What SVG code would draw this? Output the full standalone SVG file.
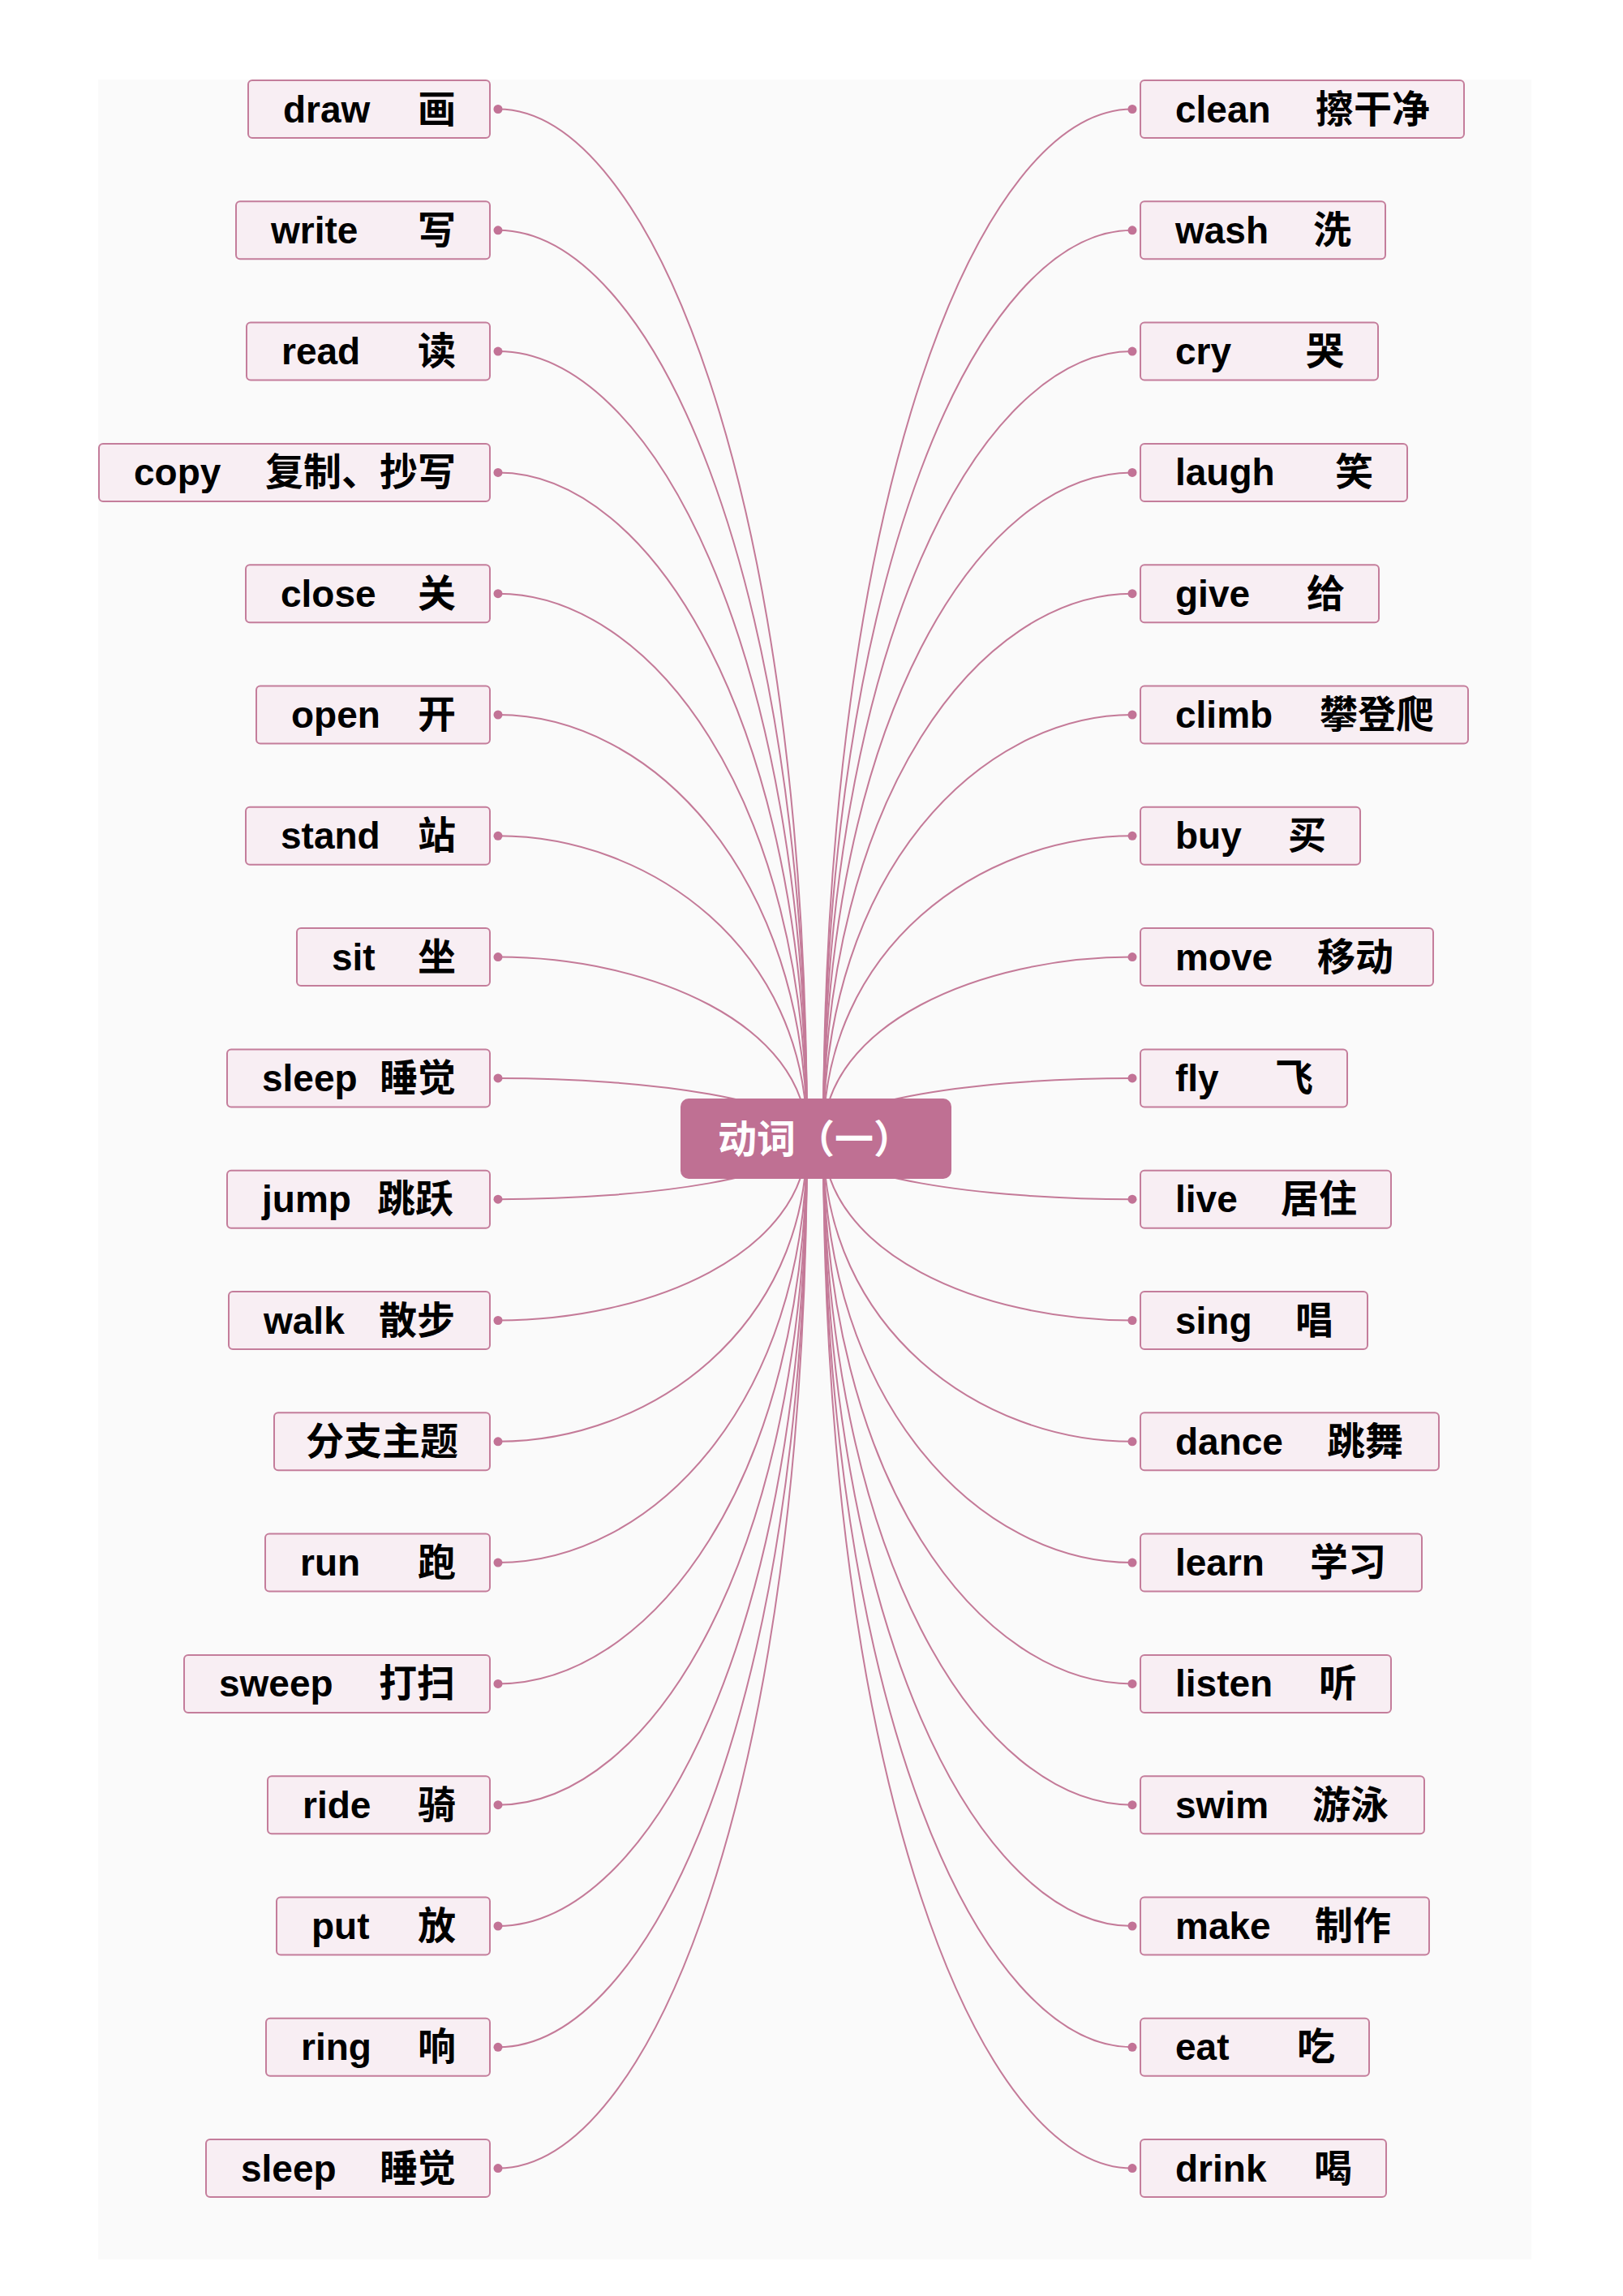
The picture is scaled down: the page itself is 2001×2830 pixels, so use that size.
<svg xmlns="http://www.w3.org/2000/svg" width="2001" height="2830" viewBox="0 0 2001 2830">
<style>
.bx{fill:#f8eef3;stroke:#c47d9b;stroke-width:2}
.en{font-family:"Liberation Sans","Noto Sans CJK SC",sans-serif;font-weight:bold;font-size:46px;fill:#000}
.zh{font-family:"Noto Sans CJK SC",sans-serif;font-weight:bold;font-size:47px}
.ln{fill:none;stroke:#c47a98;stroke-width:2}
.dt{fill:#c27396}
.ct{font-family:"Noto Sans CJK SC",sans-serif;font-weight:bold;font-size:48px;fill:#fff}
</style>
<rect x="0" y="0" width="2001" height="2830" fill="#ffffff"/>
<rect x="121" y="98" width="1767" height="2687" fill="#fafafa"/>
<g id="connectors">
<path class="ln" d="M614,134.5 C801,134.5 995,603.8 995,1403"/>
<path class="ln" d="M614,283.8 C801,283.8 995,697.9 995,1403"/>
<path class="ln" d="M614,433.1 C801,433.1 995,792 995,1403"/>
<path class="ln" d="M614,582.4 C801,582.4 995,886 995,1403"/>
<path class="ln" d="M614,731.7 C801,731.7 995,980.1 995,1403"/>
<path class="ln" d="M614,881 C801,881 995,1074.1 995,1403"/>
<path class="ln" d="M614,1030.3 C801,1030.3 995,1168.2 995,1403"/>
<path class="ln" d="M614,1179.6 C801,1179.6 995,1262.2 995,1403"/>
<path class="ln" d="M614,1328.9 C801,1328.9 995,1356.3 995,1403"/>
<path class="ln" d="M614,1478.2 C801,1478.2 995,1450.4 995,1403"/>
<path class="ln" d="M614,1627.5 C801,1627.5 995,1544.4 995,1403"/>
<path class="ln" d="M614,1776.8 C801,1776.8 995,1638.5 995,1403"/>
<path class="ln" d="M614,1926.1 C801,1926.1 995,1732.5 995,1403"/>
<path class="ln" d="M614,2075.4 C801,2075.4 995,1826.6 995,1403"/>
<path class="ln" d="M614,2224.7 C801,2224.7 995,1920.7 995,1403"/>
<path class="ln" d="M614,2374 C801,2374 995,2014.7 995,1403"/>
<path class="ln" d="M614,2523.3 C801,2523.3 995,2108.8 995,1403"/>
<path class="ln" d="M614,2672.6 C801,2672.6 995,2202.8 995,1403"/>
<path class="ln" d="M1396,134.5 C1209,134.5 1015,603.8 1015,1403"/>
<path class="ln" d="M1396,283.8 C1209,283.8 1015,697.9 1015,1403"/>
<path class="ln" d="M1396,433.1 C1209,433.1 1015,792 1015,1403"/>
<path class="ln" d="M1396,582.4 C1209,582.4 1015,886 1015,1403"/>
<path class="ln" d="M1396,731.7 C1209,731.7 1015,980.1 1015,1403"/>
<path class="ln" d="M1396,881 C1209,881 1015,1074.1 1015,1403"/>
<path class="ln" d="M1396,1030.3 C1209,1030.3 1015,1168.2 1015,1403"/>
<path class="ln" d="M1396,1179.6 C1209,1179.6 1015,1262.2 1015,1403"/>
<path class="ln" d="M1396,1328.9 C1209,1328.9 1015,1356.3 1015,1403"/>
<path class="ln" d="M1396,1478.2 C1209,1478.2 1015,1450.4 1015,1403"/>
<path class="ln" d="M1396,1627.5 C1209,1627.5 1015,1544.4 1015,1403"/>
<path class="ln" d="M1396,1776.8 C1209,1776.8 1015,1638.5 1015,1403"/>
<path class="ln" d="M1396,1926.1 C1209,1926.1 1015,1732.5 1015,1403"/>
<path class="ln" d="M1396,2075.4 C1209,2075.4 1015,1826.6 1015,1403"/>
<path class="ln" d="M1396,2224.7 C1209,2224.7 1015,1920.7 1015,1403"/>
<path class="ln" d="M1396,2374 C1209,2374 1015,2014.7 1015,1403"/>
<path class="ln" d="M1396,2523.3 C1209,2523.3 1015,2108.8 1015,1403"/>
<path class="ln" d="M1396,2672.6 C1209,2672.6 1015,2202.8 1015,1403"/>
<g>
<circle class="dt" cx="614" cy="134.5" r="5.5"/><circle class="dt" cx="614" cy="283.8" r="5.5"/><circle class="dt" cx="614" cy="433.1" r="5.5"/><circle class="dt" cx="614" cy="582.4" r="5.5"/><circle class="dt" cx="614" cy="731.7" r="5.5"/><circle class="dt" cx="614" cy="881" r="5.5"/><circle class="dt" cx="614" cy="1030.3" r="5.5"/><circle class="dt" cx="614" cy="1179.6" r="5.5"/><circle class="dt" cx="614" cy="1328.9" r="5.5"/><circle class="dt" cx="614" cy="1478.2" r="5.5"/><circle class="dt" cx="614" cy="1627.5" r="5.5"/><circle class="dt" cx="614" cy="1776.8" r="5.5"/><circle class="dt" cx="614" cy="1926.1" r="5.5"/><circle class="dt" cx="614" cy="2075.4" r="5.5"/><circle class="dt" cx="614" cy="2224.7" r="5.5"/><circle class="dt" cx="614" cy="2374" r="5.5"/><circle class="dt" cx="614" cy="2523.3" r="5.5"/><circle class="dt" cx="614" cy="2672.6" r="5.5"/>
<circle class="dt" cx="1396" cy="134.5" r="5.5"/><circle class="dt" cx="1396" cy="283.8" r="5.5"/><circle class="dt" cx="1396" cy="433.1" r="5.5"/><circle class="dt" cx="1396" cy="582.4" r="5.5"/><circle class="dt" cx="1396" cy="731.7" r="5.5"/><circle class="dt" cx="1396" cy="881" r="5.5"/><circle class="dt" cx="1396" cy="1030.3" r="5.5"/><circle class="dt" cx="1396" cy="1179.6" r="5.5"/><circle class="dt" cx="1396" cy="1328.9" r="5.5"/><circle class="dt" cx="1396" cy="1478.2" r="5.5"/><circle class="dt" cx="1396" cy="1627.5" r="5.5"/><circle class="dt" cx="1396" cy="1776.8" r="5.5"/><circle class="dt" cx="1396" cy="1926.1" r="5.5"/><circle class="dt" cx="1396" cy="2075.4" r="5.5"/><circle class="dt" cx="1396" cy="2224.7" r="5.5"/><circle class="dt" cx="1396" cy="2374" r="5.5"/><circle class="dt" cx="1396" cy="2523.3" r="5.5"/><circle class="dt" cx="1396" cy="2672.6" r="5.5"/>
</g>
</g>
<g id="center">
<rect x="839" y="1354" width="334" height="99" rx="10" fill="#bf7093"/>
<text class="ct" x="1005" y="1421" text-anchor="middle">动词（一）</text>
</g>
<g id="L0"><rect class="bx" x="306" y="99" width="298" height="71" rx="5"/><text class="en" y="150.5"><tspan x="349">draw</tspan><tspan class="zh" x="515">画</tspan></text></g>
<g id="L1"><rect class="bx" x="291" y="248.3" width="313" height="71" rx="5"/><text class="en" y="299.8"><tspan x="334">write</tspan><tspan class="zh" x="515">写</tspan></text></g>
<g id="L2"><rect class="bx" x="304" y="397.6" width="300" height="71" rx="5"/><text class="en" y="449.1"><tspan x="347">read</tspan><tspan class="zh" x="515">读</tspan></text></g>
<g id="L3"><rect class="bx" x="122" y="546.9" width="482" height="71" rx="5"/><text class="en" y="598.4"><tspan x="165">copy</tspan><tspan class="zh" x="327">复制、抄写</tspan></text></g>
<g id="L4"><rect class="bx" x="303" y="696.2" width="301" height="71" rx="5"/><text class="en" y="747.7"><tspan x="346">close</tspan><tspan class="zh" x="515">关</tspan></text></g>
<g id="L5"><rect class="bx" x="316" y="845.5" width="288" height="71" rx="5"/><text class="en" y="897"><tspan x="359">open</tspan><tspan class="zh" x="515">开</tspan></text></g>
<g id="L6"><rect class="bx" x="303" y="994.8" width="301" height="71" rx="5"/><text class="en" y="1046.3"><tspan x="346">stand</tspan><tspan class="zh" x="515">站</tspan></text></g>
<g id="L7"><rect class="bx" x="366" y="1144.1" width="238" height="71" rx="5"/><text class="en" y="1195.6"><tspan x="409">sit</tspan><tspan class="zh" x="515">坐</tspan></text></g>
<g id="L8"><rect class="bx" x="280" y="1293.4" width="324" height="71" rx="5"/><text class="en" y="1344.9"><tspan x="323">sleep</tspan><tspan class="zh" x="468">睡觉</tspan></text></g>
<g id="L9"><rect class="bx" x="280" y="1442.7" width="324" height="71" rx="5"/><text class="en" y="1494.2"><tspan x="323">jump</tspan><tspan class="zh" x="465">跳跃</tspan></text></g>
<g id="L10"><rect class="bx" x="282" y="1592" width="322" height="71" rx="5"/><text class="en" y="1643.5"><tspan x="325">walk</tspan><tspan class="zh" x="467">散步</tspan></text></g>
<g id="L11"><rect class="bx" x="338" y="1741.3" width="266" height="71" rx="5"/><text class="zh" x="471" y="1792.8" text-anchor="middle">分支主题</text></g>
<g id="L12"><rect class="bx" x="327" y="1890.6" width="277" height="71" rx="5"/><text class="en" y="1942.1"><tspan x="370">run</tspan><tspan class="zh" x="515">跑</tspan></text></g>
<g id="L13"><rect class="bx" x="227" y="2039.9" width="377" height="71" rx="5"/><text class="en" y="2091.4"><tspan x="270">sweep</tspan><tspan class="zh" x="467">打扫</tspan></text></g>
<g id="L14"><rect class="bx" x="330" y="2189.2" width="274" height="71" rx="5"/><text class="en" y="2240.7"><tspan x="373">ride</tspan><tspan class="zh" x="515">骑</tspan></text></g>
<g id="L15"><rect class="bx" x="341" y="2338.5" width="263" height="71" rx="5"/><text class="en" y="2390"><tspan x="384">put</tspan><tspan class="zh" x="515">放</tspan></text></g>
<g id="L16"><rect class="bx" x="328" y="2487.8" width="276" height="71" rx="5"/><text class="en" y="2539.3"><tspan x="371">ring</tspan><tspan class="zh" x="515">响</tspan></text></g>
<g id="L17"><rect class="bx" x="254" y="2637.1" width="350" height="71" rx="5"/><text class="en" y="2688.6"><tspan x="297">sleep</tspan><tspan class="zh" x="468">睡觉</tspan></text></g>
<g id="R0"><rect class="bx" x="1406" y="99" width="399" height="71" rx="5"/><text class="en" y="150.5"><tspan x="1449">clean</tspan><tspan class="zh" x="1622">擦干净</tspan></text></g>
<g id="R1"><rect class="bx" x="1406" y="248.3" width="302" height="71" rx="5"/><text class="en" y="299.8"><tspan x="1449">wash</tspan><tspan class="zh" x="1619">洗</tspan></text></g>
<g id="R2"><rect class="bx" x="1406" y="397.6" width="293" height="71" rx="5"/><text class="en" y="449.1"><tspan x="1449">cry</tspan><tspan class="zh" x="1610">哭</tspan></text></g>
<g id="R3"><rect class="bx" x="1406" y="546.9" width="329" height="71" rx="5"/><text class="en" y="598.4"><tspan x="1449">laugh</tspan><tspan class="zh" x="1646">笑</tspan></text></g>
<g id="R4"><rect class="bx" x="1406" y="696.2" width="294" height="71" rx="5"/><text class="en" y="747.7"><tspan x="1449">give</tspan><tspan class="zh" x="1611">给</tspan></text></g>
<g id="R5"><rect class="bx" x="1406" y="845.5" width="404" height="71" rx="5"/><text class="en" y="897"><tspan x="1449">climb</tspan><tspan class="zh" x="1627">攀登爬</tspan></text></g>
<g id="R6"><rect class="bx" x="1406" y="994.8" width="271" height="71" rx="5"/><text class="en" y="1046.3"><tspan x="1449">buy</tspan><tspan class="zh" x="1588">买</tspan></text></g>
<g id="R7"><rect class="bx" x="1406" y="1144.1" width="361" height="71" rx="5"/><text class="en" y="1195.6"><tspan x="1449">move</tspan><tspan class="zh" x="1624">移动</tspan></text></g>
<g id="R8"><rect class="bx" x="1406" y="1293.4" width="255" height="71" rx="5"/><text class="en" y="1344.9"><tspan x="1449">fly</tspan><tspan class="zh" x="1572">飞</tspan></text></g>
<g id="R9"><rect class="bx" x="1406" y="1442.7" width="309" height="71" rx="5"/><text class="en" y="1494.2"><tspan x="1449">live</tspan><tspan class="zh" x="1579">居住</tspan></text></g>
<g id="R10"><rect class="bx" x="1406" y="1592" width="280" height="71" rx="5"/><text class="en" y="1643.5"><tspan x="1449">sing</tspan><tspan class="zh" x="1597">唱</tspan></text></g>
<g id="R11"><rect class="bx" x="1406" y="1741.3" width="368" height="71" rx="5"/><text class="en" y="1792.8"><tspan x="1449">dance</tspan><tspan class="zh" x="1636">跳舞</tspan></text></g>
<g id="R12"><rect class="bx" x="1406" y="1890.6" width="347" height="71" rx="5"/><text class="en" y="1942.1"><tspan x="1449">learn</tspan><tspan class="zh" x="1615">学习</tspan></text></g>
<g id="R13"><rect class="bx" x="1406" y="2039.9" width="309" height="71" rx="5"/><text class="en" y="2091.4"><tspan x="1449">listen</tspan><tspan class="zh" x="1626">听</tspan></text></g>
<g id="R14"><rect class="bx" x="1406" y="2189.2" width="350" height="71" rx="5"/><text class="en" y="2240.7"><tspan x="1449">swim</tspan><tspan class="zh" x="1618">游泳</tspan></text></g>
<g id="R15"><rect class="bx" x="1406" y="2338.5" width="356" height="71" rx="5"/><text class="en" y="2390"><tspan x="1449">make</tspan><tspan class="zh" x="1621">制作</tspan></text></g>
<g id="R16"><rect class="bx" x="1406" y="2487.8" width="282" height="71" rx="5"/><text class="en" y="2539.3"><tspan x="1449">eat</tspan><tspan class="zh" x="1599">吃</tspan></text></g>
<g id="R17"><rect class="bx" x="1406" y="2637.1" width="303" height="71" rx="5"/><text class="en" y="2688.6"><tspan x="1449">drink</tspan><tspan class="zh" x="1620">喝</tspan></text></g>
</svg>
